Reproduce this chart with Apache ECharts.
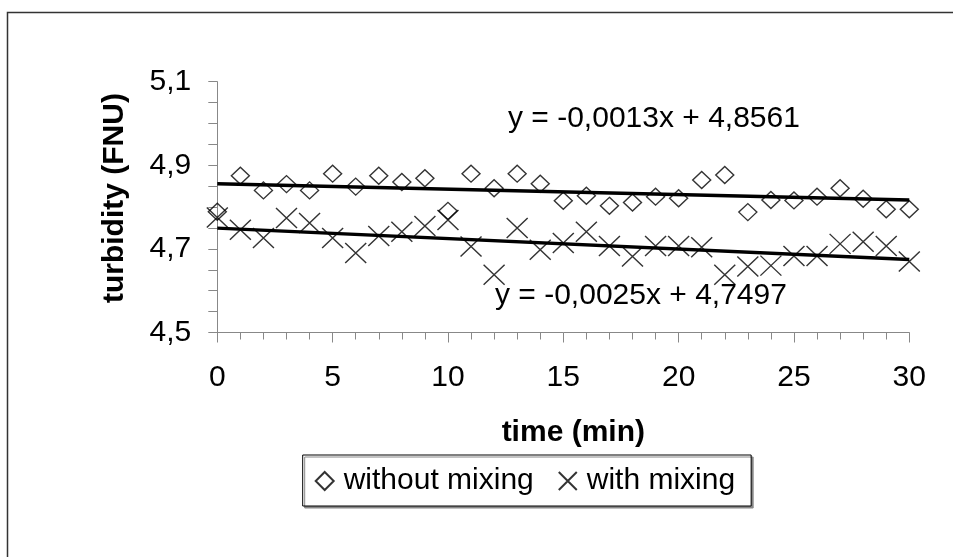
<!DOCTYPE html>
<html>
<head>
<meta charset="utf-8">
<script src="https://cdn.jsdelivr.net/npm/echarts@6/dist/echarts.min.js"></script>
<style>
html,body{margin:0;padding:0;background:#fff;}
#chart{width:953px;height:557px;}
</style>
</head>
<body>
<div id="chart"></div>
<script>
// ---- data ----
var times = [0,1,2,3,4,5,6,7,8,9,10,11,12,13,14,15,16,17,18,19,20,21,22,23,24,25,26,27,28,29,30];
var withoutMixing = [4.789,4.875,4.840,4.855,4.840,4.880,4.849,4.875,4.860,4.869,4.791,4.880,4.845,4.880,4.856,4.815,4.827,4.803,4.811,4.825,4.821,4.865,4.877,4.788,4.817,4.816,4.825,4.845,4.820,4.795,4.795];
var withMixing = [4.775,4.746,4.726,4.774,4.762,4.726,4.690,4.731,4.741,4.755,4.769,4.706,4.638,4.750,4.698,4.714,4.741,4.707,4.682,4.707,4.707,4.704,4.638,4.658,4.660,4.683,4.683,4.712,4.717,4.707,4.670];
var seriesNames = ['without mixing', 'with mixing'];
var trendSlopes = [-0.0013, -0.0025];
var trendIntercepts = [4.8561, 4.7497];
var xTitle = 'time (min)';
var yTitle = 'turbidity (FNU)';

var FONT = '"Liberation Sans", Arial, sans-serif';
function fmt(v, d){ return v.toFixed(d).replace('.', ','); }
function eqText(i){
  var s = trendSlopes[i], b = trendIntercepts[i];
  return 'y = ' + (s < 0 ? '-' : '') + fmt(Math.abs(s), 4) + 'x + ' + fmt(b, 4);
}
function trendData(i){
  var x0 = times[0], x1 = times[times.length - 1];
  return [[x0, trendIntercepts[i] + trendSlopes[i] * x0], [x1, trendIntercepts[i] + trendSlopes[i] * x1]];
}
function pairs(vals){ return times.map(function(t, i){ return [t, vals[i]]; }); }

var crossPath = 'path://M0,0L20,20M20,0L0,20';

var chart = echarts.init(document.getElementById('chart'), null, {renderer: 'canvas'});
chart.setOption({
  animation: false,
  backgroundColor: '#fff',
  grid: {left: 217.3, right: 43.7, top: 81.7, bottom: 224.5, containLabel: false},
  xAxis: {
    type: 'value', min: 0, max: 30, interval: 5,
    name: xTitle, nameLocation: 'middle', nameGap: 85,
    nameTextStyle: {fontFamily: FONT, fontSize: 30, fontWeight: 'bold', color: '#000', padding: [0,0,0,20]},
    axisLine: {onZero: false, lineStyle: {color: '#888', width: 1}},
    axisTick: {show: true, length: 10, lineStyle: {color: '#888'}},
    minorTick: {show: true, splitNumber: 5, length: 7, lineStyle: {color: '#888'}},
    splitLine: {show: false},
    axisLabel: {fontFamily: FONT, fontSize: 30, color: '#000', margin: 30}
  },
  yAxis: {
    type: 'value', min: 4.5, max: 5.1, interval: 0.2,
    name: yTitle, nameLocation: 'middle', nameGap: 88, nameRotate: 90,
    nameTextStyle: {fontFamily: FONT, fontSize: 30, fontWeight: 'bold', color: '#000', padding: [0,0,0,18]},
    axisLine: {show: true, onZero: false, lineStyle: {color: '#888', width: 1}},
    axisTick: {show: true, length: 9, lineStyle: {color: '#888'}},
    minorTick: {show: true, splitNumber: 4, length: 9, lineStyle: {color: '#888'}},
    splitLine: {show: false},
    axisLabel: {fontFamily: FONT, fontSize: 30, color: '#000', margin: 26,
      formatter: function(v){ return fmt(v, 1); }}
  },
  legend: {
    left: 302.7, top: 455,
    padding: [11, 16, 10, 12],
    itemGap: 24, itemWidth: 18, itemHeight: 18,
    borderColor: '#000', borderWidth: 1,
    backgroundColor: '#fff',
    shadowColor: '#888', shadowBlur: 0, shadowOffsetX: 2, shadowOffsetY: 2,
    textStyle: {fontFamily: FONT, fontSize: 30, color: '#000', padding: [0,0,0,5]},
    data: seriesNames
  },
  series: [
    {
      name: seriesNames[0], type: 'scatter', data: pairs(withoutMixing),
      symbol: 'diamond', symbolSize: [18, 17],
      itemStyle: {color: 'transparent', borderColor: '#000', borderWidth: 1.4},
      z: 3
    },
    {
      name: seriesNames[1], type: 'scatter', data: pairs(withMixing),
      symbol: crossPath, symbolSize: [21, 20],
      itemStyle: {color: 'transparent', borderColor: '#000', borderWidth: 1.4},
      z: 3
    },
    {
      name: 'trend1', type: 'line', data: trendData(0), symbol: 'none',
      lineStyle: {color: '#000', width: 3.5}, z: 4, silent: true
    },
    {
      name: 'trend2', type: 'line', data: trendData(1), symbol: 'none',
      lineStyle: {color: '#000', width: 3.5}, z: 4, silent: true
    }
  ],
  graphic: [
    {type: 'rect', shape: {x: 7.5, y: 12.5, width: 980, height: 600},
     style: {fill: 'none', stroke: '#333', lineWidth: 1.5}, z: -10},
    {type: 'text', x: 508, y: 119,
     style: {text: eqText(0), font: '30px ' + FONT, fill: '#000', textVerticalAlign: 'middle', verticalAlign: 'middle'}},
    {type: 'text', x: 495, y: 296,
     style: {text: eqText(1), font: '30px ' + FONT, fill: '#000', textVerticalAlign: 'middle', verticalAlign: 'middle'}}
  ]
});
</script>
</body>
</html>
